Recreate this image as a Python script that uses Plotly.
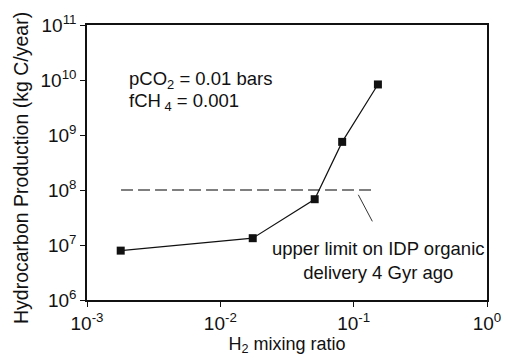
import plotly.graph_objects as go

h2_ratio = [0.00179, 0.0175, 0.051, 0.082, 0.152]
hc_production = [7.9e6, 1.33e7, 6.8e7, 7.5e8, 8.3e9]

idp_limit_x = [0.0018, 0.147]
idp_limit_y = [1e8, 1e8]

x_tickvals = [1e-3, 1e-2, 1e-1, 1e0]
x_ticktext = ["10<sup>-3</sup>", "10<sup>-2</sup>", "10<sup>-1</sup>", "10<sup>0</sup>"]
y_tickvals = [1e6, 1e7, 1e8, 1e9, 1e10, 1e11]
y_ticktext = ["10<sup>6</sup>", "10<sup>7</sup>", "10<sup>8</sup>", "10<sup>9</sup>",
              "10<sup>10</sup>", "10<sup>11</sup>"]

font_family = "Liberation Sans, Arial, sans-serif"

fig = go.Figure()
fig.add_trace(go.Scatter(
    x=idp_limit_x, y=idp_limit_y, mode="lines",
    line=dict(color="#555555", width=1.6, dash="12px,5px"),
    showlegend=False, hoverinfo="skip"))
fig.add_trace(go.Scatter(
    x=h2_ratio, y=hc_production, mode="lines+markers",
    line=dict(color="#111111", width=1.2),
    marker=dict(symbol="square", size=8, color="#111111"),
    showlegend=False))

fig.update_layout(
    width=513, height=358,
    margin=dict(l=87, r=15, t=20, b=50),
    paper_bgcolor="white", plot_bgcolor="white",
    font=dict(family=font_family, color="#111111", size=18),
    xaxis=dict(
        type="log", range=[-3, 0],
        tickvals=x_tickvals, ticktext=x_ticktext,
        ticks="outside", ticklen=5, tickwidth=1.2, tickcolor="#111111",
        showline=True, linecolor="#111111", linewidth=1.5, mirror=True,
        showgrid=False, zeroline=False,
        tickfont=dict(size=19),
        title=dict(text="H<sub>2</sub> mixing ratio", font=dict(size=18), standoff=0),
    ),
    yaxis=dict(
        type="log", range=[6, 11],
        tickvals=y_tickvals, ticktext=y_ticktext,
        ticks="outside", ticklen=5, tickwidth=1.2, tickcolor="#111111",
        showline=True, linecolor="#111111", linewidth=1.5, mirror=True,
        showgrid=False, zeroline=False,
        tickfont=dict(size=19),
    ),
    annotations=[
        dict(xref="paper", yref="paper", x=-0.165, y=0.48, xanchor="center", yanchor="middle",
             text="Hydrocarbon Production (kg C/year)", textangle=-90, showarrow=False,
             font=dict(size=19.5)),
        dict(xref="paper", yref="paper", x=0.1, y=0.8, xanchor="left", yanchor="middle",
             text="pCO<sub>2</sub> = 0.01 bars", showarrow=False, font=dict(size=18.5)),
        dict(xref="paper", yref="paper", x=0.1, y=0.72, xanchor="left", yanchor="middle",
             text="fCH<sub> 4</sub> = 0.001", showarrow=False, font=dict(size=18.5)),
        dict(x=-0.86, y=7.43, xref="x", yref="y", ax=-0.971, ay=7.94, axref="x", ayref="y",
             text="", showarrow=True, arrowhead=0, arrowwidth=1, arrowcolor="#333333"),
        dict(xref="paper", yref="paper", x=0.728, y=0.143, xanchor="center", yanchor="middle",
             text="upper limit on IDP organic<br>delivery 4 Gyr ago", showarrow=False,
             font=dict(size=18.5)),
    ],
)

fig.write_html("out.html")
